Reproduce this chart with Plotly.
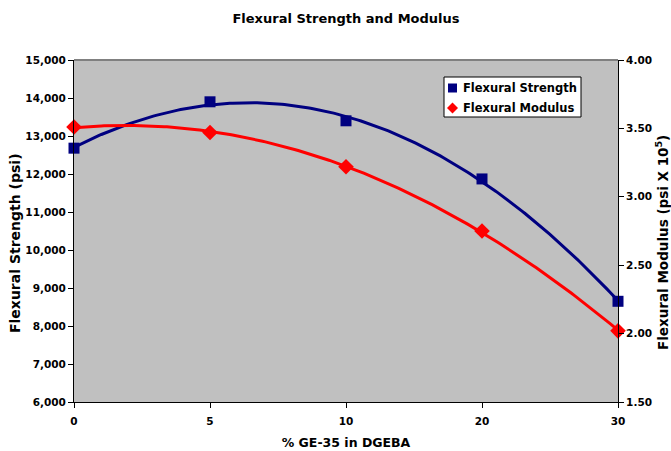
import numpy as np
import plotly.graph_objects as go

categories = ["0", "5", "10", "20", "30"]
strength = [12680, 13900, 13400, 11870, 8650]
modulus = [3.51, 3.47, 3.22, 2.75, 2.02]
left_ticks = list(range(6000, 15001, 1000))
right_ticks = [1.5, 2.0, 2.5, 3.0, 3.5, 4.0]
series_names = ["Flexural Strength", "Flexural Modulus"]

idx = np.arange(len(categories))
xs = np.linspace(0, len(categories) - 1, 200)
fit_s = np.polyval(np.polyfit(idx, strength, 2), xs)
fit_m = np.polyval(np.polyfit(idx, modulus, 2), xs)

NAVY = "#000080"
RED = "#FF0000"
FONT = "DejaVu Sans, Arial, sans-serif"

# page body margin is removed by post_script; plot area in page pixels: x 74..618, y 60..402
W, H = 671, 451
PL, PR, PT, PB = 74, 618, 60, 402


def px(x):
    return (x - PL) / (PR - PL)


def py(y):
    return (PB - y) / (PB - PT)


fig = go.Figure()
fig.add_trace(go.Scatter(x=xs, y=fit_s, mode="lines", line=dict(color=NAVY, width=3),
                         showlegend=False, hoverinfo="skip", cliponaxis=False))
fig.add_trace(go.Scatter(x=xs, y=fit_m, mode="lines", line=dict(color=RED, width=3),
                         showlegend=False, hoverinfo="skip", yaxis="y2", cliponaxis=False))
fig.add_trace(go.Scatter(x=idx, y=strength, mode="markers", name=series_names[0], showlegend=False,
                         marker=dict(symbol="square", size=11, color=NAVY), cliponaxis=False))
fig.add_trace(go.Scatter(x=idx, y=modulus, mode="markers", name=series_names[1], showlegend=False,
                         marker=dict(symbol="diamond", size=12, color=RED), yaxis="y2", cliponaxis=False))

# top border of plot area
fig.add_shape(type="line", xref="paper", yref="paper", x0=0, x1=1, y0=1, y1=1,
              line=dict(color="#808080", width=2))

# custom legend box
fig.add_shape(type="rect", xref="paper", yref="paper", x0=px(444), x1=px(581), y0=py(117), y1=py(77),
              fillcolor="white", line=dict(color="black", width=1))
fig.add_shape(type="rect", xref="paper", yref="paper", x0=px(448), x1=px(457), y0=py(92.5), y1=py(83.5),
              fillcolor=NAVY, line=dict(width=0))
fig.add_shape(type="path", xref="paper", yref="paper",
              path="M {a},{b} L {c},{d} L {a},{e} L {f},{d} Z".format(
                  a=px(452.5), b=py(102.5), c=px(458), d=py(108), e=py(113.5), f=px(447)),
              fillcolor=RED, line=dict(width=0))
for name, ycen in zip(series_names, [88, 108]):
    fig.add_annotation(text="<b>%s</b>" % name, xref="paper", yref="paper", x=px(461), y=py(ycen),
                       xanchor="left", yanchor="middle", showarrow=False,
                       font=dict(family=FONT, size=11.5, color="black"))

# axis titles as annotations for exact placement
fig.add_annotation(text="<b>Flexural Modulus (psi X 10<sup>5</sup>)</b>", xref="paper", yref="paper",
                   x=px(662), y=py(243), xanchor="center", yanchor="middle", textangle=-90,
                   showarrow=False, font=dict(family=FONT, size=13.5, color="black"))
fig.add_annotation(text="<b>Flexural Strength (psi)</b>", xref="paper", yref="paper",
                   x=px(15), y=py(243), xanchor="center", yanchor="middle", textangle=-90,
                   showarrow=False, font=dict(family=FONT, size=14, color="black"))

axfont = dict(family=FONT, size=10.5, color="black")
fig.update_layout(
    width=W, height=H,
    margin=dict(l=PL, r=W - PR, t=PT, b=H - PB),
    paper_bgcolor="white", plot_bgcolor="#C0C0C0",
    font=dict(family=FONT, color="black"),
    showlegend=False,
    title=dict(text="<b>Flexural Strength and Modulus</b>", x=0.5, xref="paper", xanchor="center",
               y=1 - 18 / H, yref="container", yanchor="middle",
               font=dict(family=FONT, size=13, color="black")),
    xaxis=dict(range=[0, len(categories) - 1], tickvals=list(idx),
               ticktext=["<b>%s</b>" % c for c in categories], automargin=False,
               showgrid=False, zeroline=False, showline=True, linecolor="black", linewidth=1,
               ticks="outside", ticklen=5, tickcolor="black", tickfont=axfont, ticklabelstandoff=4,
               title=dict(text="<b>% GE-35 in DGEBA</b>", font=dict(family=FONT, size=12.5), standoff=12)),
    yaxis=dict(range=[6000, 15000], tickvals=left_ticks, automargin=False,
               ticktext=["<b>{:,}</b>".format(v) for v in left_ticks],
               showgrid=False, zeroline=False, showline=True, linecolor="black", linewidth=1,
               ticks="outside", ticklen=5, tickcolor="black", tickfont=axfont),
    yaxis2=dict(range=[1.5, 4.0], tickvals=right_ticks, automargin=False,
                ticktext=["<b>{:.2f}</b>".format(v) for v in right_ticks],
                overlaying="y", side="right",
                showgrid=False, zeroline=False, showline=True, linecolor="black", linewidth=1,
                ticks="outside", ticklen=5, tickcolor="black", tickfont=axfont),
)

fig.write_html("out.html", config={"displayModeBar": False},
               post_script="document.body.style.margin='0';document.body.style.overflow='hidden';")
